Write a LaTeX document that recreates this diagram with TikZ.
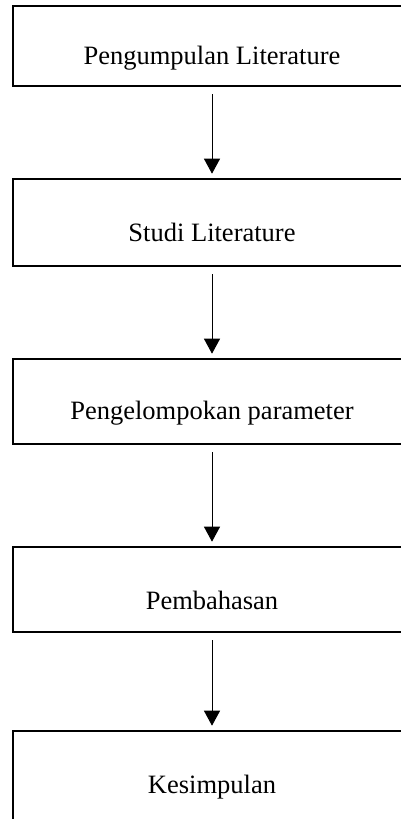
\documentclass[tikz,border=0pt]{standalone}
\usepackage{fontspec}
\setmainfont{Liberation Serif}
\usetikzlibrary{arrows.meta}
\begin{document}
\begin{tikzpicture}[x=1pt,y=-1pt,
  stepbox/.style={draw=black,line width=2.6pt,rectangle,inner sep=0pt,minimum width=399pt},
  lbl/.style={inner sep=0pt,font=\fontsize{26.5}{30}\selectfont,anchor=center},
  flow/.style={draw=black,line width=1pt,-{Triangle[width=16pt,length=15pt]},shorten <=7pt,shorten >=4pt}]
\clip (0,0) rectangle (401,819);
\useasboundingbox (0,0) rectangle (401,819);
\node[stepbox,minimum height=80pt] (b1) at (212.5,46) {};
\node[stepbox,minimum height=87pt] (b2) at (212.5,222.5) {};
\node[stepbox,minimum height=85pt] (b3) at (212.5,401.5) {};
\node[stepbox,minimum height=85pt] (b4) at (212.5,589.5) {};
\node[stepbox,minimum height=90pt] (b5) at (212.5,776) {};
\node[lbl] (t1) at (212,58) {Pengumpulan Literature};
\node[lbl] (t2) at (212,232) {Studi Literature};
\node[lbl] (t3) at (212,413) {Pengelompokan parameter};
\node[lbl] (t4) at (212,600) {Pembahasan};
\node[lbl] (t5) at (212,787) {Kesimpulan};
\draw[flow] (b1.south -| 212,0) -- (b2.north -| 212,0);
\draw[flow] (b2.south -| 212,0) -- (b3.north -| 212,0);
\draw[flow] (b3.south -| 212,0) -- (b4.north -| 212,0);
\draw[flow] (b4.south -| 212,0) -- (b5.north -| 212,0);
\end{tikzpicture}
\end{document}
